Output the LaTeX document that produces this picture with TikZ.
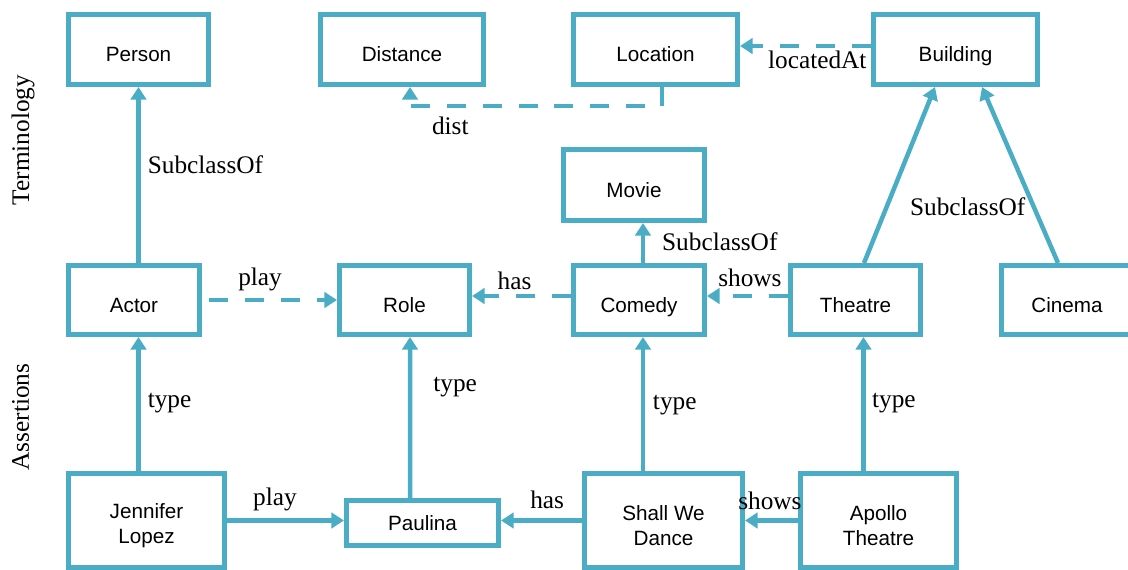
\documentclass[tikz,border=0pt]{standalone}
\usepackage{fontspec}
\setmainfont{Liberation Serif}
\newfontfamily\boxfont{Liberation Sans}
\usetikzlibrary{calc,arrows.meta,positioning}
\definecolor{ontoblue}{RGB}{75,172,198}
\newcommand\boxstrut{\rule{0pt}{18pt}}
\tikzset{
  cls/.style={rectangle, draw=ontoblue, line width=3.56pt, fill=white,
              minimum height=1.75cm, inner sep=0pt, align=center,
              text height=17.6pt, text depth=0pt,
              font=\boxfont\fontsize{14.7}{17}\selectfont},
  clsflat/.style={cls, minimum height=1.125cm, text height=10.5pt},
  clsbig/.style={cls, minimum height=2.35cm, text height=, text depth=,
                 font=\boxfont\fontsize{14.7}{17.5}\selectfont},
  isarrow/.style={-{Triangle[length=9pt,width=11pt]}, draw=ontoblue, line width=3.2pt},
  relarrow/.style={isarrow, dash pattern=on 13.5pt off 12pt},
  lbl/.style={inner sep=0pt, font=\fontsize{18}{20}\selectfont},
}
\begin{document}
\begin{tikzpicture}[x=0.025cm, y=-0.025cm]
  \useasboundingbox (0,0) rectangle (1128,570);
  % terminology
  \node[cls, minimum width=3.5cm]   (Person)   at (138.5,49.5) {Person};
  \node[cls, minimum width=4.075cm] (Distance) at (402,49.5)   {Distance};
  \node[cls, minimum width=4.1cm]   (Location) at (655.5,49.5) {Location};
  \node[cls, minimum width=4.1cm]   (Building) at (955.5,49.5) {Building};
  \node[cls, minimum width=3.525cm, minimum height=1.775cm] (Movie) at (634,185) {Movie};
  \node[cls, minimum width=3.275cm, minimum height=1.725cm] (Actor)   at (134,300)   {Actor};
  \node[cls, minimum width=3.25cm,  minimum height=1.725cm] (Role)    at (404.5,300) {Role};
  \node[cls, minimum width=3.275cm, minimum height=1.725cm] (Comedy)  at (639,300)   {Comedy};
  \node[cls, minimum width=3.25cm,  minimum height=1.725cm] (Theatre) at (855.5,300) {Theatre};
  \node[cls, minimum width=3.275cm, minimum height=1.725cm] (Cinema)  at (1067,300)  {Cinema};
  % assertions
  \node[clsbig, minimum width=3.9cm]  (Jennifer) at (146.5,520.5) {\boxstrut Jennifer\\Lopez};
  \node[clsflat, minimum width=3.8cm] (Paulina)  at (422.5,523)   {Paulina};
  \node[clsbig, minimum width=3.95cm] (Dance)    at (663.5,520.5) {\boxstrut Shall We\\Dance};
  \node[clsbig, minimum width=3.9cm]  (Apollo)   at (878.5,520.5) {\boxstrut Apollo\\Theatre};

  \node[lbl, rotate=90] (termlbl)   at (23,140)   {Terminology};
  \node[lbl, rotate=90] (assertlbl) at (20.5,417) {Assertions};

  \draw[isarrow] (Actor.north -| Person.south) -- node[lbl, pos=.56, right=5pt] (subPerson) {SubclassOf} (Person.south);
  \draw[relarrow] ($(Location.south)+(6.5,0)$) -- ++(0,19)
    -| node[lbl, pos=.42, below=6pt] (distlbl) {dist} ($(Distance.south)+(8,0)$);
  \draw[relarrow] ($(Building.west)+(0,-3.5)$) -- node[lbl, pos=.41, below=2pt] (locatedlbl) {locatedAt} ($(Location.east)+(0,-3.5)$);
  \draw[isarrow] ($(Theatre.north)+(8.5,0)$) -- node[lbl, pos=.32, right=15pt] (subBuilding) {SubclassOf} ($(Building.south)+(-20.5,0)$);
  \draw[isarrow] ($(Cinema.north)+(-9,0)$) -- ($(Building.south)+(26.5,0)$);
  \draw[isarrow] ($(Comedy.north)+(4,0)$) -- node[lbl, pos=.52, right=12pt] (subMovie) {SubclassOf} ($(Movie.south)+(9,0)$);
  \draw[relarrow, shorten <=5pt] (Actor.east) -- node[lbl, pos=.43, above=5pt] (playlbl) {play} (Role.west);
  \draw[relarrow] ($(Comedy.west)+(0,-4)$) -- node[lbl, pos=.57, above=2.5pt] (haslbl) {has} ($(Role.east)+(0,-4)$);
  \draw[relarrow] ($(Theatre.west)+(0,-4)$) -- node[lbl, pos=.47, above=5pt] (showslbl) {shows} ($(Comedy.east)+(0,-4)$);

  \draw[isarrow] (Jennifer.north -| Person.south) -- node[lbl, pos=.51, right=5pt] (typeActor) {type} (Actor.south -| Person.south);
  \draw[isarrow] ($(Paulina.north)+(-12.5,0)$) -- node[lbl, pos=.69, right=15pt] (typeRole) {type} ($(Role.south)+(5.5,0)$);
  \draw[isarrow] ($(Dance.north)+(-20.5,0)$) -- node[lbl, pos=.49, right=5.5pt] (typeComedy) {type} ($(Comedy.south)+(4,0)$);
  \draw[isarrow] ($(Apollo.north)+(-15,0)$) -- node[lbl, pos=.51, right=4.5pt] (typeTheatre) {type} ($(Theatre.south)+(8,0)$);
  \draw[isarrow] (Jennifer.east) -- node[lbl, pos=.41, above=5pt] (playJL) {play} (Jennifer.east -| Paulina.west);
  \draw[isarrow] (Dance.west) -- node[lbl, pos=.43, above=7pt] (hasSWD) {has} (Dance.west -| Paulina.east);
  \draw[isarrow] (Apollo.west) -- node[lbl, pos=.53, above=6pt] (showsAT) {shows} (Apollo.west -| Dance.east);
\end{tikzpicture}
\end{document}
